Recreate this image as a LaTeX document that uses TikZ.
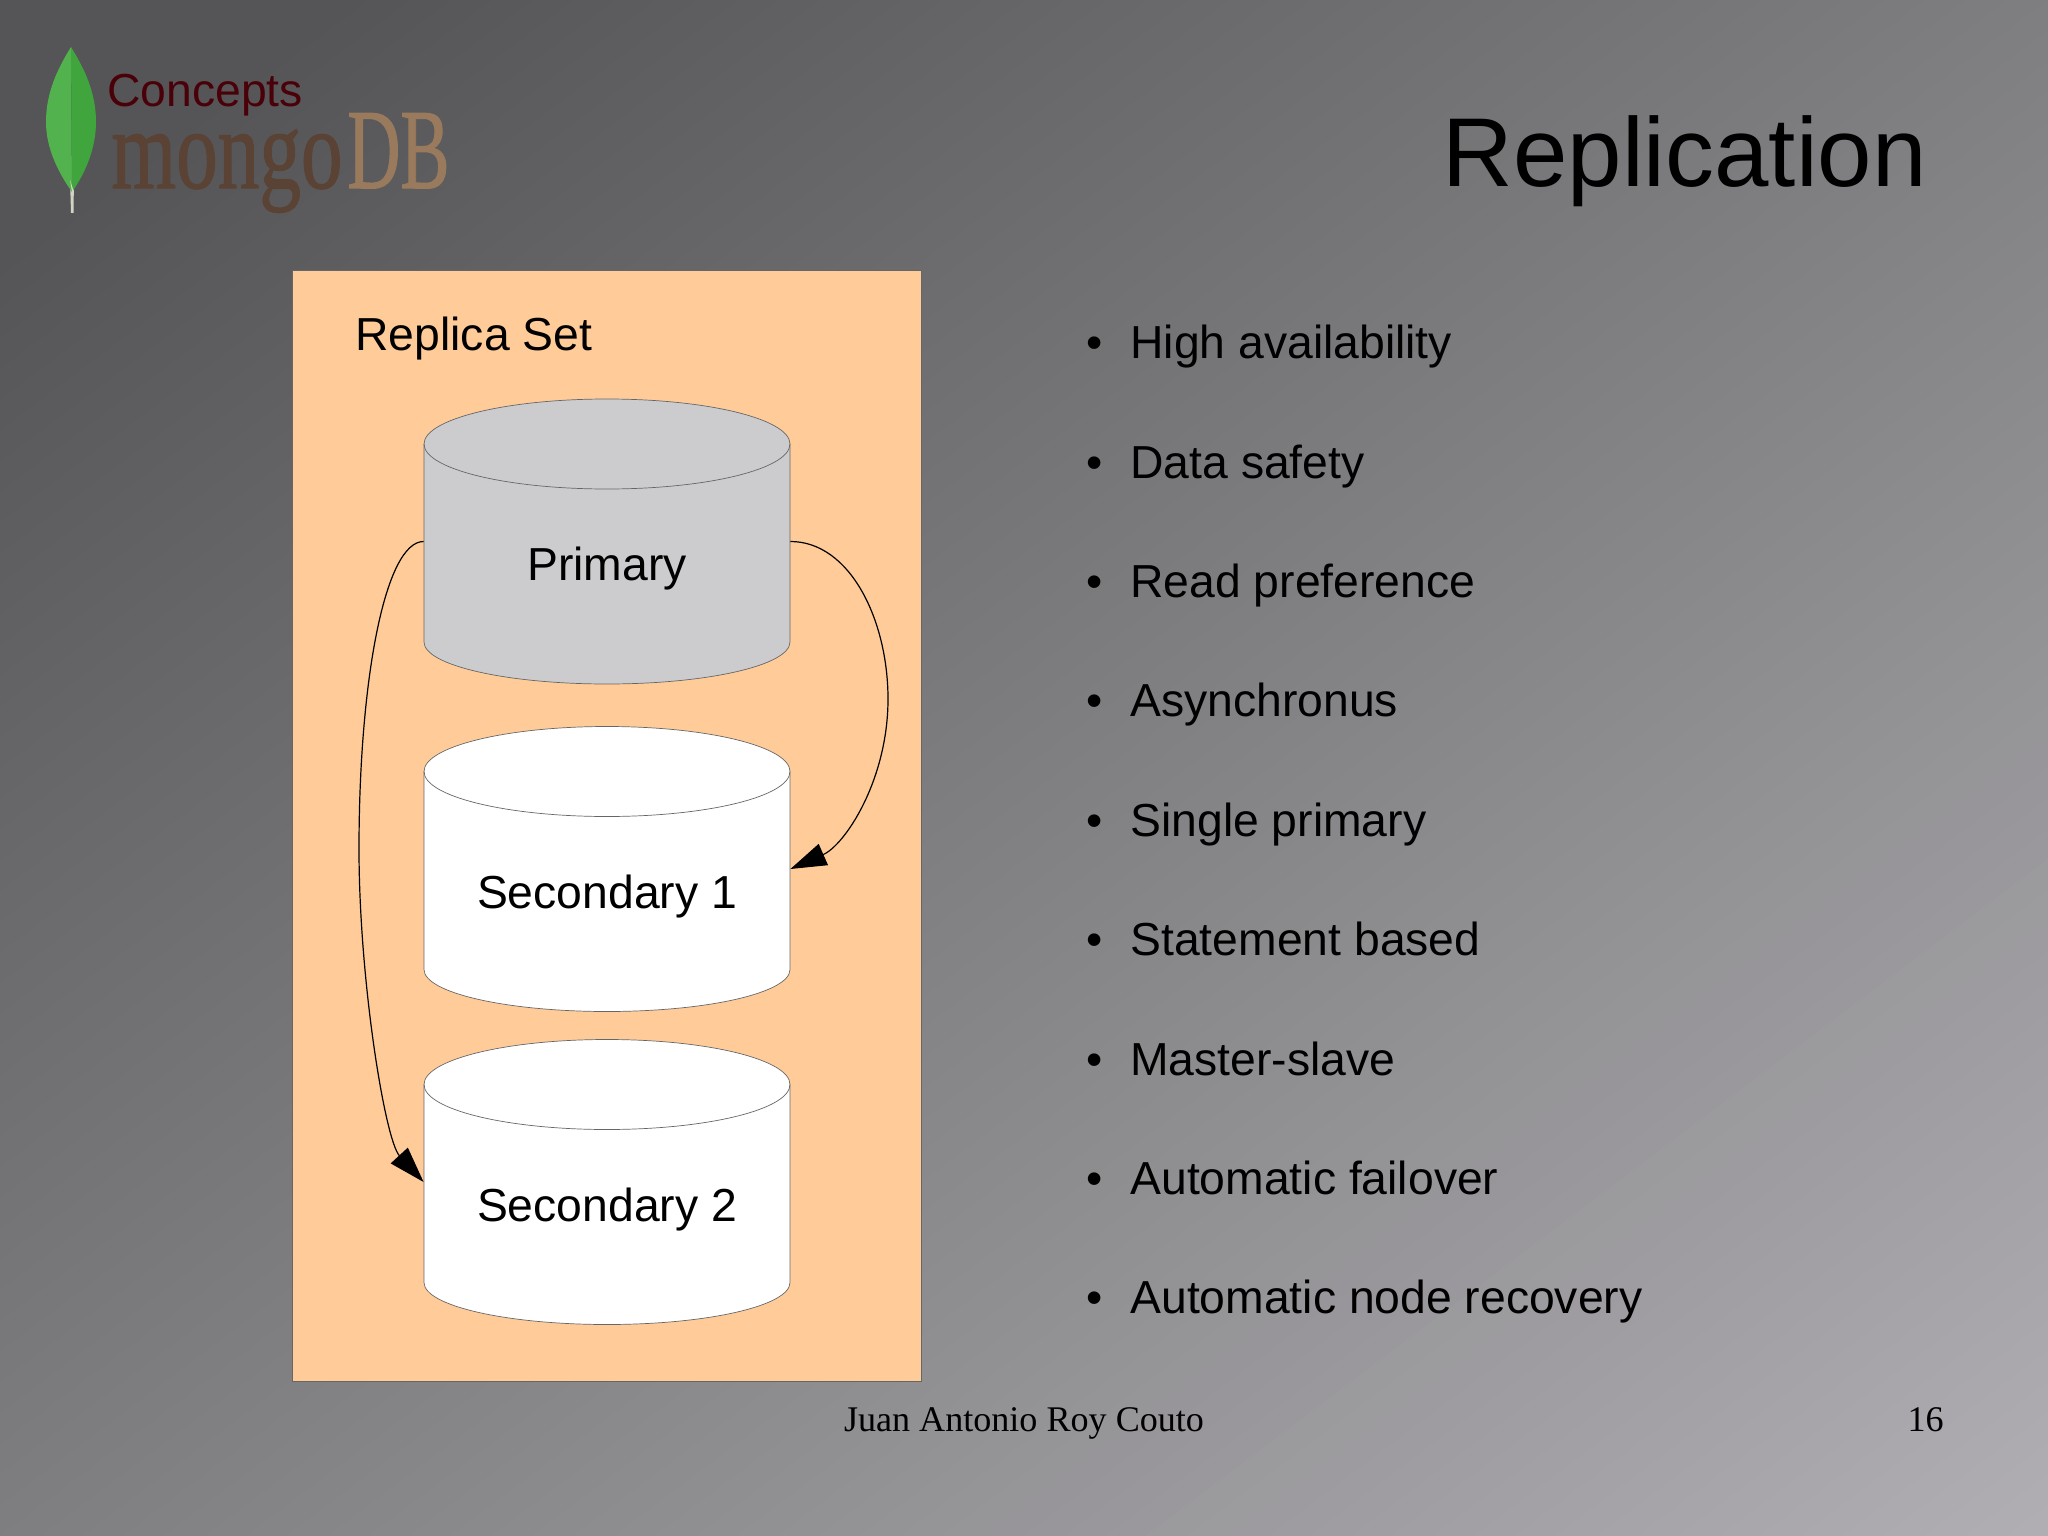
\documentclass[tikz,border=0pt]{standalone}
\usepackage{fontspec}
\setmainfont{Liberation Sans}
\newfontfamily\serifft{Liberation Serif}
\newfontfamily\logoft[FakeBold=1.2]{Liberation Serif}
\usetikzlibrary{arrows.meta}
\definecolor{bgA}{HTML}{555557}
\definecolor{bgB}{HTML}{B0AEB2}
\definecolor{panelc}{HTML}{FFCC99}
\definecolor{primc}{HTML}{CCCCCF}
\definecolor{conc}{HTML}{4A0008}
\definecolor{mongoc}{HTML}{5A4234}
\definecolor{dbc}{HTML}{9A7A5C}
\definecolor{leafL}{HTML}{52B24E}
\definecolor{leafR}{HTML}{3FA53C}
\definecolor{stemc}{HTML}{D2D3C4}
\tikzset{
  body/.style={font=\fontsize{23.15}{27}\selectfont,anchor=base west,inner sep=0pt,text=black},
  ctext/.style={font=\fontsize{23.15}{27}\selectfont,anchor=base,inner sep=0pt,text=black},
  foot/.style={font=\serifft\fontsize{18.05}{22}\selectfont,inner sep=0pt,anchor=base,text=black},
  cylline/.style={draw=black!60,line width=0.35pt},
  conn/.style={draw=black,line width=0.6pt,-{Triangle[length=18pt,width=11.5pt]}},
  anchorbox/.style={minimum width=183pt,minimum height=142.5pt,inner sep=0pt},
}
% name, centre y, fill, text
\newcommand{\dbcyl}[4]{%
  \path[cylline,fill=#3] (424,#2-97.5) arc[x radius=183,y radius=45,start angle=180,end angle=360]
     -- (790,#2+100.5) arc[x radius=183,y radius=42,start angle=0,end angle=180] -- cycle;
  \path[cylline] (424,#2-97.5) arc[x radius=183,y radius=45,start angle=180,end angle=0];
  \node[anchorbox] (#1) at (607,#2) {};
  \node[ctext] (#1text) at (607,#2+39) {#4};
}
\newcommand{\bulletitem}[3]{%
  \node[body] (b#1) at (1086,358.7+119.4*#1-119.4) {•};
  \node[body] (t#1) at (1130,358.7+119.4*#1-119.4) {#2};
}
\begin{document}
\begin{tikzpicture}[x=0.5pt,y=-0.5pt]
\useasboundingbox (0,0) rectangle (2048,1535);
% background: linear gradient, corner to corner, laid as overlapping half-planes
\begin{scope}
\clip (0,0) rectangle (2048,1535);
\fill[bgA] (0,0) rectangle (2048,1535);
\foreach \i in {1,...,91}{
  \pgfmathsetmacro{\pc}{1.0989*\i}
  \pgfmathsetmacro{\ss}{-1031.5+24.56*\i}
  \pgfmathsetmacro{\px}{1024+0.6*\ss}
  \pgfmathsetmacro{\py}{767.5+0.8*\ss}
  \fill[bgB!\pc!bgA] (\px+2400,\py-1800) -- (\px-2400,\py+1800)
     -- (\px-2400+2400,\py+1800+3200) -- (\px+2400+2400,\py-1800+3200) -- cycle;
}
\end{scope}
% logo
\fill[stemc] (70,178) -- (74,178) -- (73.5,213) -- (71,213) -- cycle;
\fill[leafL] (71,47) .. controls (58,68) and (46,92) .. (46,122) .. controls (46,150) and (60,175) .. (72,192) -- cycle;
\fill[leafR] (71,47) .. controls (84,68) and (96,92) .. (96,122) .. controls (96,150) and (84,175) .. (72,192) -- cycle;
\fill[stemc] (70,180) -- (72,192) -- (74,192) -- cycle;
\node[anchor=base west,inner sep=0pt,text=mongoc,font=\logoft\fontsize{57}{60}\selectfont] (mongo) at (111,188) {\scalebox{0.73}[1]{mongo}};
\node[anchor=base west,inner sep=0pt,text=dbc,font=\logoft\fontsize{57}{60}\selectfont] (dbword) at (347,188) {\scalebox{0.645}[1]{DB}};
\node[body,text=conc] (concepts) at (107,107) {Concepts};
% title
\node[anchor=base east,inner sep=0pt,font=\fontsize{48.9}{52}\selectfont,text=black] (title) at (1927,187) {Replication};
% panel
\path[fill=panelc,draw=black!60,line width=0.4pt] (292.5,270.5) rectangle (921,1381);
\node[body] (rs) at (355,350.5) {Replica Set};
\dbcyl{primary}{541.5}{primc}{Primary}
\dbcyl{secone}{869}{white}{Secondary 1}
\dbcyl{sectwo}{1182}{white}{Secondary 2}
\coordinate (rmid) at (888,699);
\coordinate (lmid) at (359,849);
\draw[conn] (primary.east) .. controls (850,541.5) and (888,620) .. (rmid) .. controls (888,780) and (845,845) .. (secone.east);
\draw[conn] (primary.west) .. controls (385,541.5) and (359,680) .. (lmid) .. controls (359,980) and (385,1140) .. (sectwo.west);
% bullets
\bulletitem{1}{High availability}{}
\bulletitem{2}{Data safety}{}
\bulletitem{3}{Read preference}{}
\bulletitem{4}{Asynchronus}{}
\bulletitem{5}{Single primary}{}
\bulletitem{6}{Statement based}{}
\bulletitem{7}{Master-slave}{}
\bulletitem{8}{Automatic failover}{}
\bulletitem{9}{Automatic node recovery}{}
% footer
\node[foot] (author) at (1024,1431) {Juan Antonio Roy Couto};
\node[foot,anchor=base east] (pageno) at (1944,1431) {16};
\end{tikzpicture}
\end{document}
